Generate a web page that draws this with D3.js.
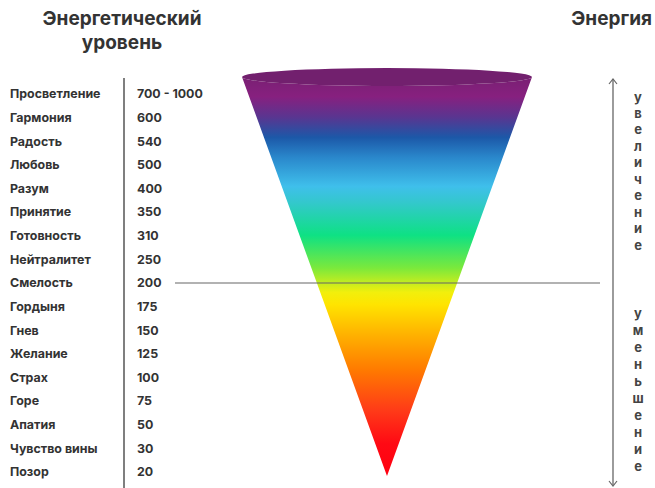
<!DOCTYPE html>
<html>
<head>
<meta charset="utf-8">
<script src="https://cdn.jsdelivr.net/npm/d3@7"></script>
<style>
  body { margin: 0; background: #fff; }
  svg { display: block; font-family: Inter, Roboto, "Noto Sans", sans-serif; }
  .lbl { font-size: 12.4px; font-weight: 700; fill: #333; }
  .ttl { font-size: 19px; font-weight: 700; fill: #333; }
  .vert { font-size: 13px; font-weight: 700; fill: #444; }
</style>
</head>
<body>
<svg id="svg"></svg>
<script>
var levels = ['Просветление', 'Гармония', 'Радость', 'Любовь', 'Разум', 'Принятие',
    'Готовность', 'Нейтралитет', 'Смелость', 'Гордыня', 'Гнев', 'Желание',
    'Страх', 'Горе', 'Апатия', 'Чувство вины', 'Позор'];
var values = ['700 - 1000', '600', '540', '500', '400', '350', '310', '250', '200',
    '175', '150', '125', '100', '75', '50', '30', '20'];
var threshold = 'Смелость';
var upWord = 'увеличение';
var downWord = 'уменьшение';

// cone colour stops, top -> bottom
var stopOffsets = [0, 0.07, 0.12, 0.17, 0.22, 0.29, 0.33, 0.41, 0.49, 0.55, 0.58, 0.65, 0.74, 0.84, 0.92, 1];
var stopColors = ['#73206e', '#87207f', '#5a3590', '#1c58a8', '#2a88cc', '#3fbfeb', '#33c8cc',
    '#0ee184', '#7ae93c', '#f2ef0c', '#ffe400', '#ffb400', '#ff7a00', '#ff3a18', '#ff0a14', '#ff0010'];

var W = 655, H = 488;
var svg = d3.select('#svg').attr('width', W).attr('height', H);

var y = d3.scalePoint()
    .domain(levels)
    .range([94, 472]);

// titles
svg.append('text').attr('class', 'ttl')
    .attr('x', 122).attr('y', 25).attr('text-anchor', 'middle')
    .text('Энергетический');
svg.append('text').attr('class', 'ttl')
    .attr('x', 122).attr('y', 49).attr('text-anchor', 'middle')
    .text('уровень');
svg.append('text').attr('class', 'ttl')
    .attr('x', 652).attr('y', 25).attr('text-anchor', 'end')
    .text('Энергия');

// separator
svg.append('line')
    .attr('x1', 124).attr('x2', 124)
    .attr('y1', 78).attr('y2', H)
    .attr('stroke', '#555').attr('stroke-width', 1.5);

svg.append('g').selectAll('text')
    .data(levels)
    .enter()
    .append('text')
    .attr('class', 'lbl')
    .attr('x', 10)
    .attr('y', function(d) { return y(d); })
    .attr('dy', '0.35em')
    .text(function(d) { return d; });

svg.append('g').selectAll('text')
    .data(values)
    .enter()
    .append('text')
    .attr('class', 'lbl')
    .attr('x', 137)
    .attr('y', function(d, i) { return y(levels[i]); })
    .attr('dy', '0.35em')
    .text(function(d) { return d; });

// cone
var cx = 387, topY = 77, rx = 145, ry = 9, apexY = 476;
var defs = svg.append('defs');
var grad = defs.append('linearGradient')
    .attr('id', 'coneGrad')
    .attr('gradientUnits', 'userSpaceOnUse')
    .attr('x1', 0).attr('x2', 0)
    .attr('y1', topY - ry).attr('y2', apexY);
grad.selectAll('stop')
    .data(stopColors)
    .enter()
    .append('stop')
    .attr('offset', function(d, i) { return stopOffsets[i]; })
    .attr('stop-color', function(d) { return d; });

svg.append('path')
    .attr('d', 'M' + (cx - rx) + ',' + topY +
        ' L' + cx + ',' + apexY +
        ' L' + (cx + rx) + ',' + topY +
        ' A' + rx + ',' + ry + ' 0 0 1 ' + (cx - rx) + ',' + topY + 'Z')
    .attr('fill', 'url(#coneGrad)');
svg.append('ellipse')
    .attr('cx', cx).attr('cy', topY)
    .attr('rx', rx).attr('ry', ry)
    .attr('fill', '#72206e');

// threshold line
svg.append('line')
    .attr('x1', 175).attr('x2', 600)
    .attr('y1', y(threshold)).attr('y2', y(threshold))
    .attr('stroke', '#666').attr('stroke-width', 1.2);

// right arrow
var ax = 613;
svg.append('line')
    .attr('x1', ax).attr('x2', ax)
    .attr('y1', 79).attr('y2', 485)
    .attr('stroke', '#666').attr('stroke-width', 1.3);
svg.append('path')
    .attr('d', 'M' + (ax - 4) + ',84 L' + ax + ',79 L' + (ax + 4) + ',84')
    .attr('fill', 'none').attr('stroke', '#666').attr('stroke-width', 1.2);
svg.append('path')
    .attr('d', 'M' + (ax - 4) + ',481 L' + ax + ',486 L' + (ax + 4) + ',481')
    .attr('fill', 'none').attr('stroke', '#666').attr('stroke-width', 1.2);

function vertical(word, y0, y1) {
    var letters = word.split('');
    var s = d3.scalePoint().domain(d3.range(letters.length)).range([y0, y1]);
    svg.append('g').selectAll('text')
        .data(letters)
        .enter()
        .append('text')
        .attr('class', 'vert')
        .attr('x', 638)
        .attr('y', function(d, i) { return s(i); })
        .attr('dy', '0.35em')
        .attr('text-anchor', 'middle')
        .text(function(d) { return d; });
}
vertical(upWord, 97, 245);
vertical(downWord, 313, 466);
</script>
</body>
</html>
